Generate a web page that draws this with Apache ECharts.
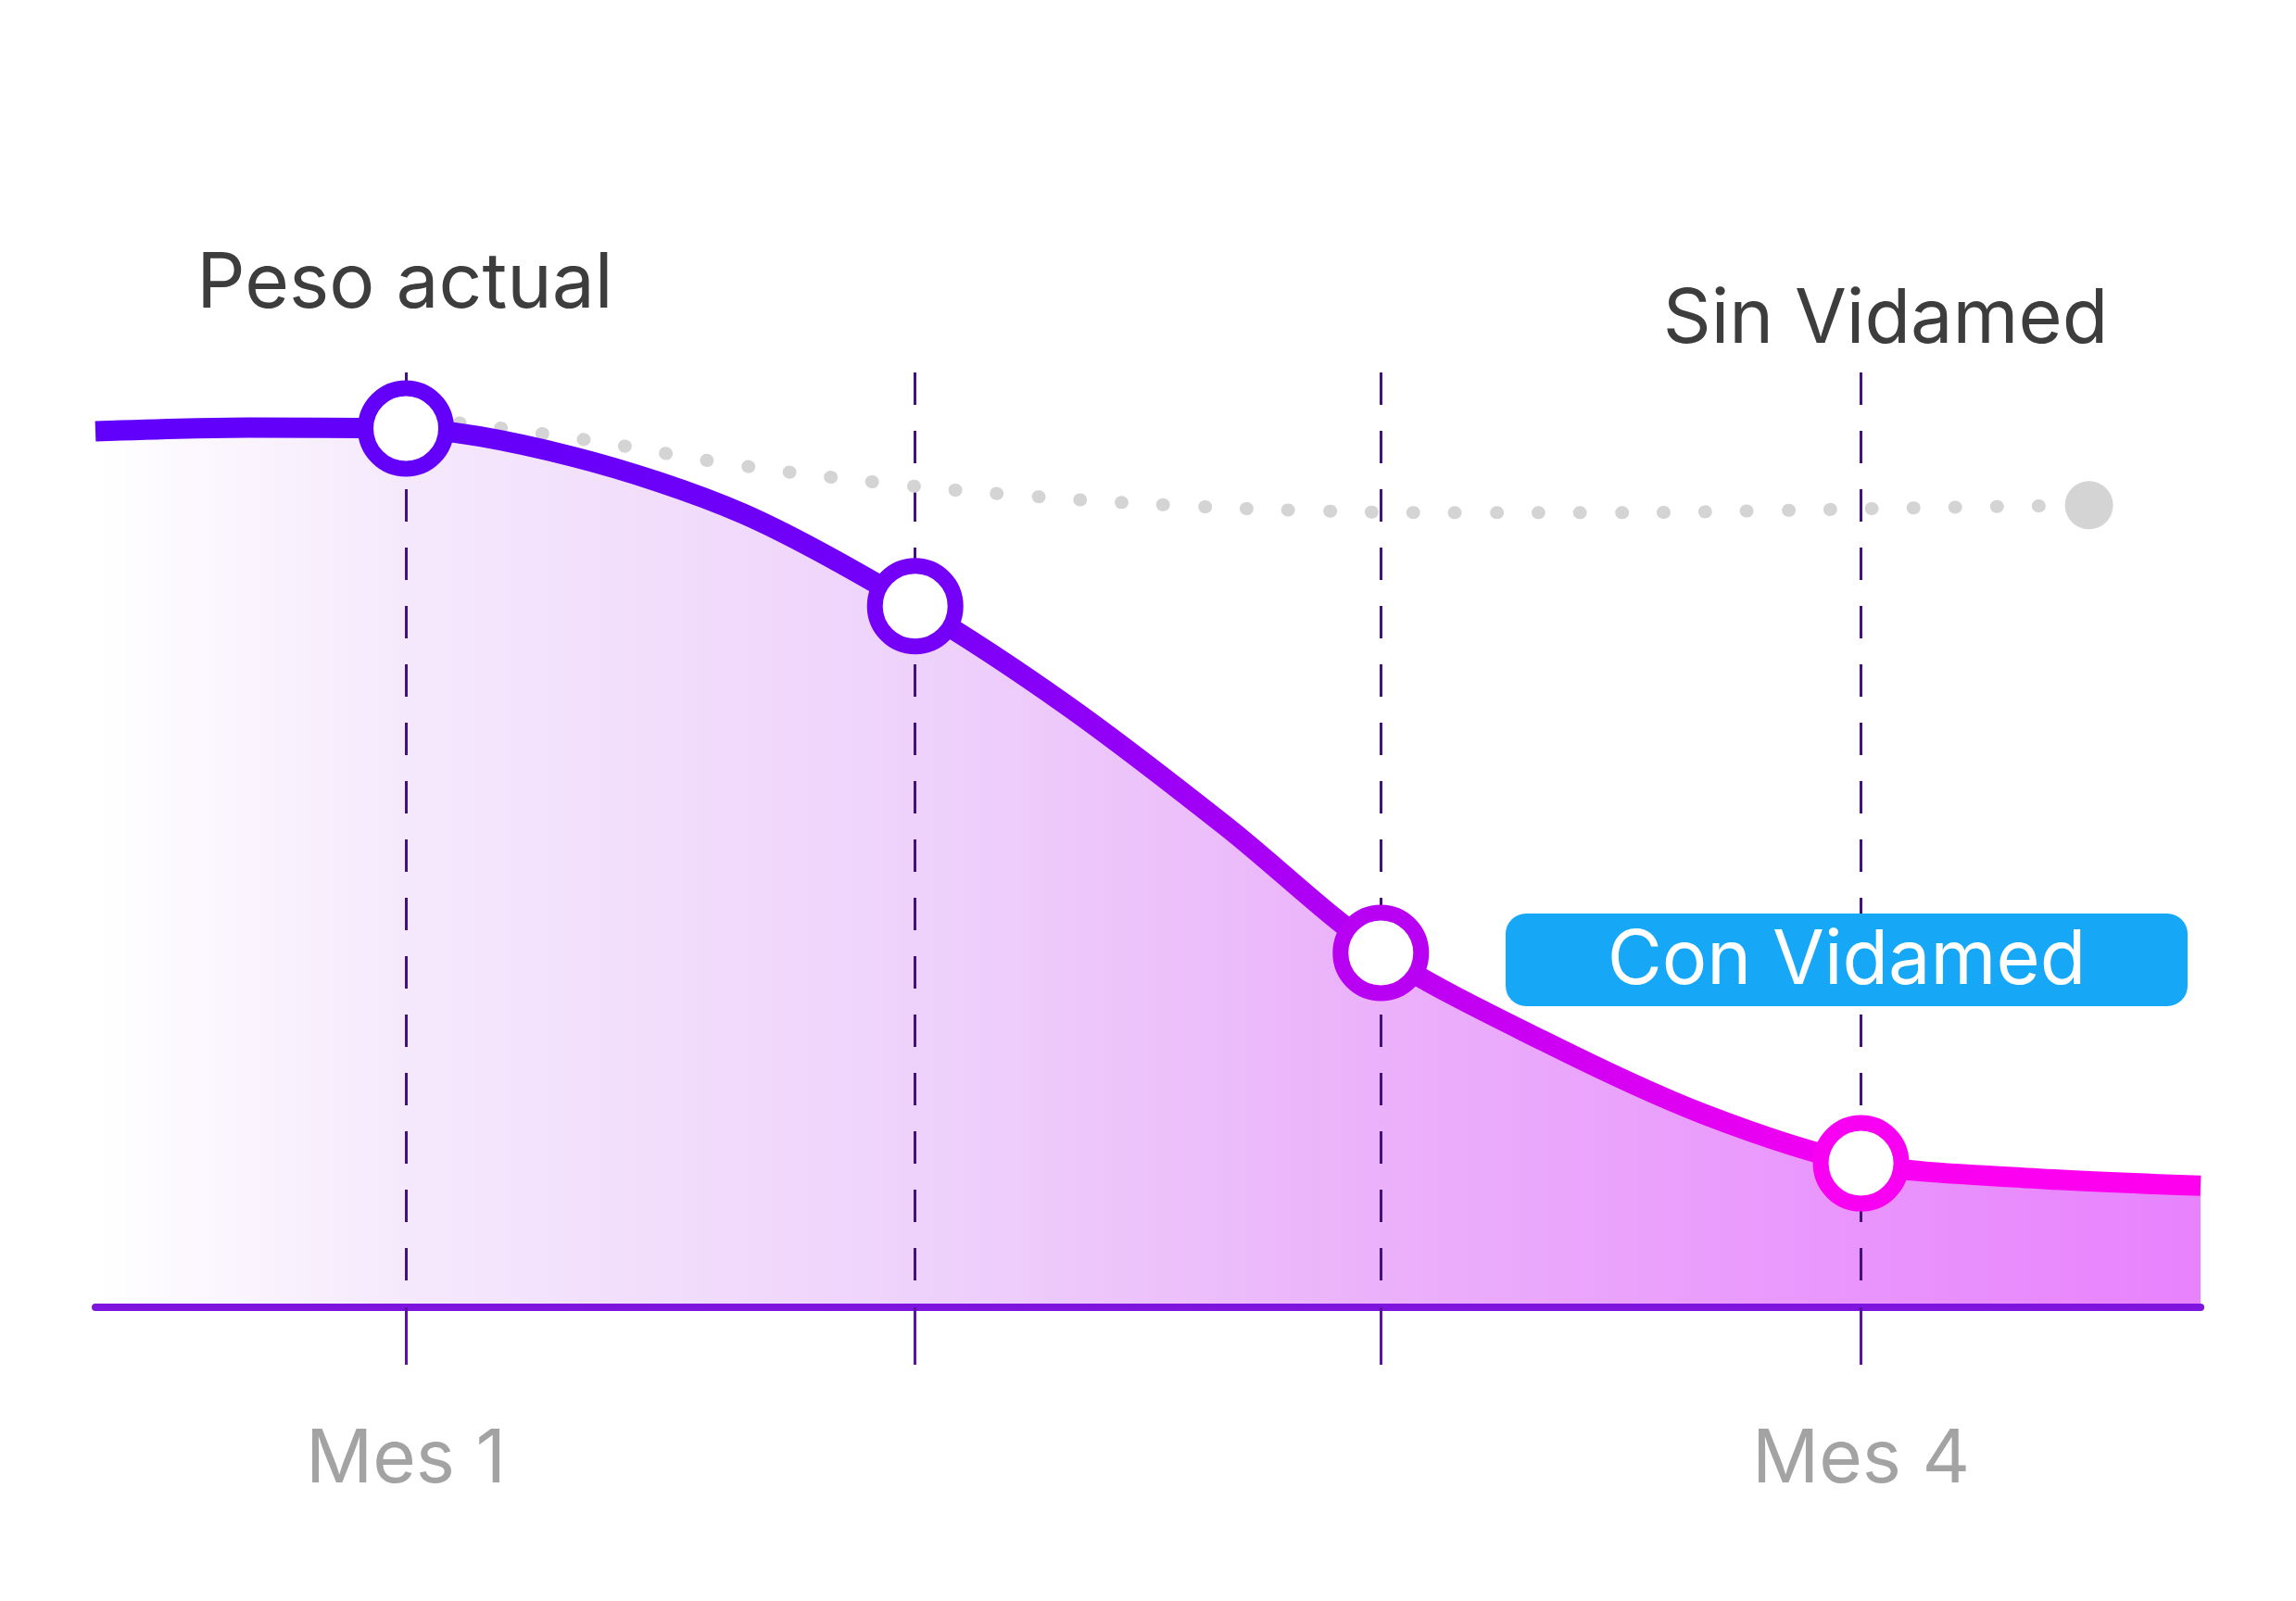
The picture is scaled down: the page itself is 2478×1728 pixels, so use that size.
<!DOCTYPE html>
<html>
<head>
<meta charset="utf-8">
<script src="https://cdn.jsdelivr.net/npm/echarts@6/dist/echarts.min.js"></script>
<style>
  html, body { margin: 0; padding: 0; background: #ffffff; }
  #main { width: 2478px; height: 1728px; }
</style>
</head>
<body>
<div id="main"></div>
<script>
let mychart = echarts.init(document.getElementById('main'));

// months on the x axis (Mes 1 .. Mes 4), only first and last are labelled
let months = [1, 2.05, 3.01, 4]
let tickLabels = ['Mes 1', '', '', 'Mes 4']

// "Con Vidamed" curve (markers sit on the month points)
let conX = [0.36, 0.676, 1, 1.344, 1.695, 2.05, 2.365, 2.692, 3.01, 3.345, 3.674, 4, 4.354, 4.70]
let conY = [93.7, 94.1, 94.0, 91.0, 84.9, 75.0, 64.3, 51.4, 37.9, 28.5, 20.7, 15.4, 13.8, 13.0]

// "Sin Vidamed" dotted curve
let sinX = [1.11, 1.37, 1.67, 1.98, 2.28, 2.58, 2.88, 3.18, 3.49, 3.79, 4.09, 4.47]
let sinY = [94.6, 92.8, 90.2, 88.2, 86.8, 85.8, 85.2, 85.0, 85.0, 85.2, 85.5, 85.8]

// border colour of each white marker, per month (style, not data)
let markerColors = ['#6300f9', '#7400f8', '#b800f3', '#f800f2']

let font = 'Inter, "Noto Sans", sans-serif'

let conData = conX.map((x, i) => {
    let item = { value: [x, conY[i]], symbol: 'none' }
    let m = months.indexOf(x)
    if (m >= 0) {
        item.symbol = 'circle'
        item.itemStyle = { borderColor: markerColors[m] }
    }
    return item
})

let sinData = sinX.map((x, i) => {
    let item = { value: [x, sinY[i]], symbol: 'none' }
    if (i === sinX.length - 1) {
        item.symbol = 'circle'
    }
    return item
})

let option = {
    backgroundColor: '#ffffff',
    animation: false,
    grid: { left: 103, right: 103, top: 402, bottom: 317 },
    xAxis: {
        type: 'value',
        min: 0.36,
        max: 4.70,
        z: 5,
        axisLine: { show: true, lineStyle: { color: '#7f14de', width: 8 } },
        axisTick: {
            show: true,
            customValues: months,
            length: 62,
            lineStyle: { color: '#5c12a8', width: 3 }
        },
        axisLabel: {
            show: true,
            customValues: [months[0], months[3]],
            formatter: v => tickLabels[months.indexOf(v)],
            fontFamily: font,
            fontSize: 80,
            lineHeight: 80,
            color: '#a3a3a3',
            margin: 125
        },
        splitLine: { show: false }
    },
    yAxis: {
        type: 'value',
        min: 0,
        max: 100,
        show: false
    },
    series: [
        {
            // area under the curve + month guides
            type: 'line',
            data: conData.map(d => d.value),
            smooth: 0.3,
            symbol: 'none',
            z: 1,
            lineStyle: { width: 0 },
            areaStyle: {
                opacity: 1,
                color: new echarts.graphic.LinearGradient(0, 0, 1, 0, [
                    { offset: 0, color: '#ffffff' },
                    { offset: 0.15, color: '#f5e8fc' },
                    { offset: 0.4, color: '#eed1fb' },
                    { offset: 0.5, color: '#ecc2fa' },
                    { offset: 0.6, color: '#ebb2fa' },
                    { offset: 0.85, color: '#e993fd' },
                    { offset: 1, color: '#e882fd' }
                ])
            },
            markLine: {
                silent: true,
                symbol: 'none',
                z: 2,
                label: { show: false },
                lineStyle: { type: [35, 28], color: '#43117c', width: 3 },
                data: months.map(m => [{ coord: [m, 100] }, { coord: [m, 0] }])
            }
        },
        {
            name: 'Sin Vidamed',
            type: 'line',
            data: sinData,
            smooth: 0.4,
            z: 2,
            symbolSize: 52,
            itemStyle: { color: '#d4d4d4' },
            lineStyle: { color: '#d4d4d4', width: 14, type: [1, 44], cap: 'round' }
        },
        {
            name: 'Con Vidamed',
            type: 'line',
            data: conData,
            smooth: 0.3,
            z: 3,
            symbolSize: 87,
            itemStyle: { color: '#ffffff', borderWidth: 17 },
            lineStyle: {
                width: 22,
                color: new echarts.graphic.LinearGradient(0, 0, 1, 0, [
                    { offset: 0, color: '#6000fa' },
                    { offset: 0.147, color: '#6300f9' },
                    { offset: 0.388, color: '#7400f8' },
                    { offset: 0.505, color: '#9a00f6' },
                    { offset: 0.613, color: '#b800f3' },
                    { offset: 0.84, color: '#f800f2' },
                    { offset: 1, color: '#ff00ee' }
                ])
            }
        }
    ],
    graphic: [
        {
            type: 'text',
            x: 437, y: 307,
            style: {
                text: 'Peso actual', fill: '#3d3d3d',
                font: '82px ' + font, textAlign: 'center', textVerticalAlign: 'middle'
            }
        },
        {
            type: 'text',
            x: 2035, y: 346,
            style: {
                text: 'Sin Vidamed', fill: '#3d3d3d',
                font: '81px ' + font, textAlign: 'center', textVerticalAlign: 'middle'
            }
        },
        {
            type: 'rect',
            x: 1625, y: 986,
            shape: { width: 736, height: 100, r: 22 },
            style: { fill: '#16a8f6' },
            z: 10
        },
        {
            type: 'text',
            x: 1993, y: 1038,
            z: 11,
            style: {
                text: 'Con Vidamed', fill: '#ffffff',
                font: '81px ' + font, textAlign: 'center', textVerticalAlign: 'middle'
            }
        }
    ]
};
mychart.setOption(option);
</script>
</body>
</html>
